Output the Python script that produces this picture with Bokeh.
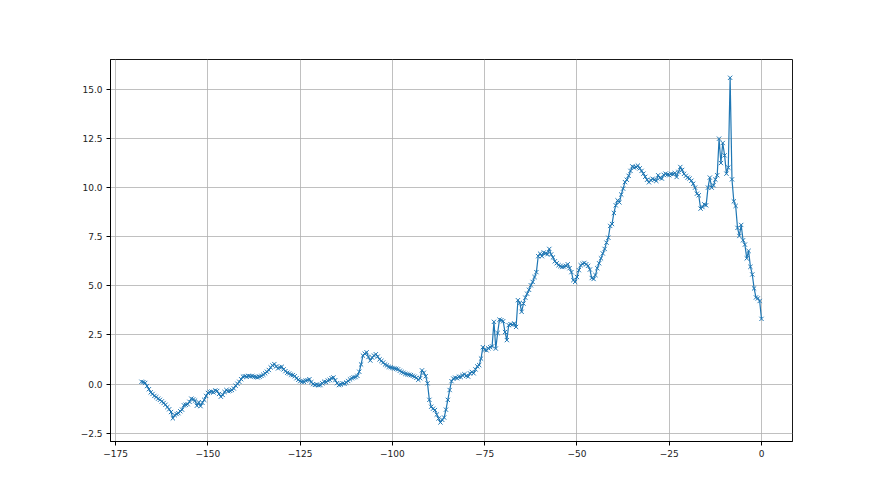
from bokeh.plotting import figure
from bokeh.models import Range1d, FixedTicker, ColumnDataSource
from bokeh.embed import file_html
from bokeh.resources import INLINE

x_start = -168.0
x_step = 0.5

y_values = [
    0.12, 0.10, 0.06, -0.10, -0.26, -0.42, -0.50, -0.60,
    -0.66, -0.74, -0.80, -0.88, -0.96, -1.05, -1.17, -1.28,
    -1.42, -1.74, -1.58, -1.52, -1.48, -1.38, -1.30, -1.08,
    -1.05, -1.02, -0.90, -0.74, -0.78, -0.84, -1.10, -0.92,
    -1.12, -0.95, -0.80, -0.60, -0.45, -0.40, -0.38, -0.42,
    -0.32, -0.35, -0.50, -0.64, -0.55, -0.40, -0.30, -0.36,
    -0.34, -0.30, -0.22, -0.08, 0.02, 0.12, 0.25, 0.38,
    0.40, 0.38, 0.42, 0.40, 0.41, 0.38, 0.36, 0.34,
    0.38, 0.42, 0.48, 0.55, 0.63, 0.72, 0.85, 0.95,
    1.02, 0.90, 0.80, 0.85, 0.88, 0.75, 0.66, 0.58,
    0.54, 0.48, 0.46, 0.40, 0.30, 0.22, 0.15, 0.12,
    0.12, 0.18, 0.20, 0.25, 0.10, 0.00, -0.04, -0.02,
    -0.06, -0.05, 0.04, 0.12, 0.10, 0.18, 0.22, 0.30,
    0.34, 0.20, 0.05, -0.05, -0.02, 0.04, 0.02, 0.08,
    0.16, 0.24, 0.30, 0.34, 0.36, 0.42, 0.63, 1.00,
    1.45, 1.55, 1.62, 1.38, 1.20, 1.35, 1.45, 1.52,
    1.40, 1.26, 1.18, 1.10, 1.00, 0.95, 0.88, 0.86,
    0.82, 0.80, 0.78, 0.75, 0.68, 0.62, 0.58, 0.52,
    0.50, 0.48, 0.46, 0.42, 0.38, 0.32, 0.22, 0.30,
    0.70, 0.58, 0.40, 0.04, -0.80, -1.15, -1.25, -1.32,
    -1.55, -1.75, -1.95, -1.82, -1.70, -1.30, -0.80, -0.30,
    0.15, 0.28, 0.33, 0.30, 0.38, 0.36, 0.45, 0.50,
    0.42, 0.38, 0.55, 0.62, 0.55, 0.75, 0.90, 0.97,
    1.30, 1.88, 1.75, 1.72, 1.82, 1.88, 1.92, 3.17,
    1.81, 2.60, 3.28, 3.25, 3.20, 2.65, 2.24, 3.00,
    3.05, 3.02, 3.09, 2.91, 4.27, 4.13, 3.68, 4.10,
    4.40, 4.60, 4.80, 5.03, 5.20, 5.45, 5.70, 6.51,
    6.64, 6.51, 6.70, 6.65, 6.61, 6.88, 6.60, 6.45,
    6.25, 6.15, 6.05, 6.00, 5.96, 5.98, 6.02, 6.10,
    5.90, 5.70, 5.29, 5.20, 5.45, 5.80, 6.05, 6.12,
    6.17, 6.10, 6.02, 5.83, 5.40, 5.35, 5.55, 5.90,
    6.15, 6.40, 6.65, 6.88, 7.20, 7.45, 8.05, 8.15,
    8.71, 9.10, 9.35, 9.25, 9.65, 9.95, 10.28, 10.40,
    10.60, 10.85, 11.08, 11.02, 11.05, 11.12, 10.98, 10.85,
    10.71, 10.55, 10.40, 10.27, 10.38, 10.45, 10.40, 10.34,
    10.63, 10.50, 10.46, 10.65, 10.71, 10.66, 10.63, 10.70,
    10.68, 10.74, 10.54, 10.80, 11.05, 10.90, 10.70, 10.60,
    10.51, 10.46, 10.35, 10.20, 10.00, 9.69, 9.61, 8.93,
    9.01, 9.15, 9.10, 10.00, 10.51, 10.00, 10.12, 10.41,
    10.63, 12.49, 11.25, 12.27, 11.64, 10.71, 11.02, 15.59,
    10.42, 9.30, 9.07, 7.95, 7.54, 8.10, 7.32, 7.10,
    6.40, 6.78, 5.97, 5.58, 4.87, 4.41, 4.36, 4.23,
    3.32,
]
x_values = [x_start + i * x_step for i in range(len(y_values))]

x_ticks = [-175, -150, -125, -100, -75, -50, -25, 0]
x_tick_labels = ["\u2212175", "\u2212150", "\u2212125", "\u2212100", "\u221275", "\u221250", "\u221225", "0"]
y_ticks = [-2.5, 0.0, 2.5, 5.0, 7.5, 10.0, 12.5, 15.0]
y_tick_labels = ["\u22122.5", "0.0", "2.5", "5.0", "7.5", "10.0", "12.5", "15.0"]

src = ColumnDataSource(data=dict(x=x_values, y=y_values))

p = figure(
    output_backend="svg", toolbar_location=None,
    width=872, height=487,
    frame_width=682, frame_height=382,
    min_border_left=110, min_border_right=80, min_border_top=59, min_border_bottom=46,
    x_range=Range1d(-176.4, 8.4), y_range=Range1d(-2.92, 16.52),
)
p.background_fill_color = "white"
p.border_fill_color = "white"
p.outline_line_color = "black"
p.outline_line_width = 1
p.outline_line_alpha = 0.9

p.line("x", "y", source=src, line_color="#1f77b4", line_width=1.2)
p.scatter("x", "y", source=src, marker="x", size=6, line_color="#1f77b4", line_width=1)

for ax, ticks, labels in ((p.xaxis[0], x_ticks, x_tick_labels), (p.yaxis[0], y_ticks, y_tick_labels)):
    ax.ticker = FixedTicker(ticks=ticks)
    ax.major_label_overrides = {t: l for t, l in zip(ticks, labels)}
    ax.minor_tick_line_color = None
    ax.major_tick_out = 4
    ax.major_tick_in = 0
    ax.axis_line_color = "black"
    ax.major_tick_line_color = "black"
    ax.major_label_text_font = "DejaVu Sans"
    ax.major_label_text_font_size = "9px"
    ax.major_label_text_color = "#222222"
    ax.major_label_standoff = 4

p.grid.grid_line_color = "#b0b0b0"
p.grid.grid_line_width = 0.8
p.xgrid.ticker = FixedTicker(ticks=x_ticks)
p.ygrid.ticker = FixedTicker(ticks=y_ticks)

open("out.html", "w").write(file_html(p, INLINE))
